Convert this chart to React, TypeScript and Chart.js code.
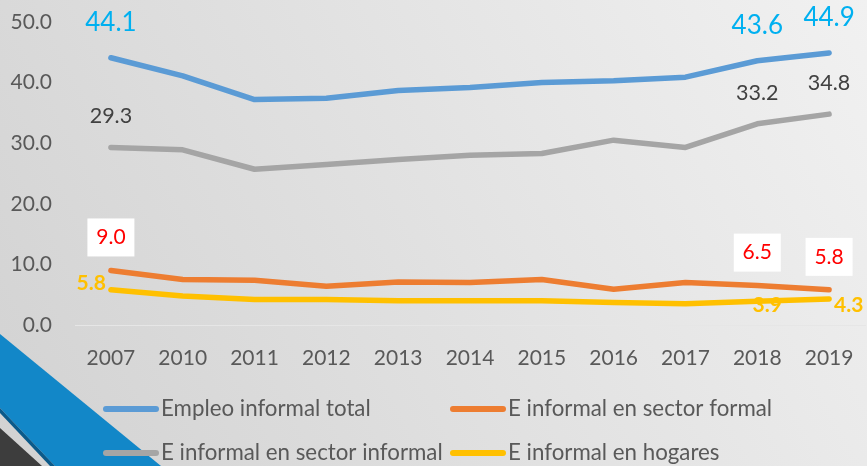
import React, { useEffect, useRef } from "react";
import { Chart, registerables } from "chart.js";

Chart.register(...registerables);

const years = ["2007", "2010", "2011", "2012", "2013", "2014", "2015", "2016", "2017", "2018", "2019"];
const empleoTotal = [44.1, 41.1, 37.2, 37.4, 38.7, 39.2, 40.0, 40.3, 40.9, 43.6, 44.9];
const sectorFormal = [9.0, 7.5, 7.4, 6.4, 7.1, 7.0, 7.5, 5.9, 7.0, 6.5, 5.8];
const sectorInformal = [29.3, 28.9, 25.7, 26.5, 27.3, 28.0, 28.3, 30.5, 29.3, 33.2, 34.8];
const hogares = [5.8, 4.8, 4.2, 4.2, 4.0, 4.0, 4.0, 3.7, 3.5, 3.9, 4.3];
const seriesNames = [
  "Empleo informal total",
  "E informal en sector formal",
  "E informal en sector informal",
  "E informal en hogares",
];
const seriesColors = ["#5B9BD5", "#ED7D31", "#A5A5A5", "#FFC000"];
const labelledIdx = [0, 9, 10];
const yMin = 0;
const yMax = 50;
const yStep = 10;

const FONT = 'Lato, "Open Sans", sans-serif';

const bgPlugin = {
  id: "bgDeco",
  beforeDraw(chart: any) {
    const { ctx, width, height } = chart;
    ctx.save();
    const g = ctx.createLinearGradient(0, height, width, 0);
    g.addColorStop(0, "#d2d2d2");
    g.addColorStop(1, "#f1f1f1");
    ctx.fillStyle = g;
    ctx.fillRect(0, 0, width, height);
    const poly = (pts: number[][], color: string) => {
      ctx.beginPath();
      ctx.moveTo(pts[0][0], pts[0][1]);
      for (let i = 1; i < pts.length; i++) ctx.lineTo(pts[i][0], pts[i][1]);
      ctx.closePath();
      ctx.fillStyle = color;
      ctx.fill();
    };
    poly([[0, 334], [161, 466], [55, 466], [0, 408]], "#1287C8");
    poly([[0, 408], [55, 466], [50, 466], [0, 413]], "#0B5A8A");
    poly([[0, 428], [42, 466], [0, 466]], "#3D3D3D");
    ctx.restore();
  },
};

const labelPlugin = {
  id: "valueLabels",
  afterDatasetsDraw(chart: any) {
    const { ctx } = chart;
    ctx.save();
    const pt = (ds: number, i: number) => chart.getDatasetMeta(ds).data[i];
    const vals = [empleoTotal, sectorFormal, sectorInformal, hogares];
    labelledIdx.forEach((i, k) => {
      // blue
      let p = pt(0, i);
      ctx.font = `26px ${FONT}`;
      ctx.fillStyle = "#00B0F0";
      ctx.textAlign = "center";
      ctx.textBaseline = "middle";
      ctx.fillText(vals[0][i].toFixed(1), p.x, p.y - 35);
      // gray
      p = pt(2, i);
      ctx.font = `21.5px ${FONT}`;
      ctx.fillStyle = "#404040";
      ctx.fillText(vals[2][i].toFixed(1), p.x, p.y - 31);
      // orange boxed
      p = pt(1, i);
      ctx.fillStyle = "#FFFFFF";
      ctx.fillRect(p.x - 23.5, p.y - 33 - 19, 47, 38);
      ctx.font = `21px ${FONT}`;
      ctx.fillStyle = "#FF0000";
      ctx.fillText(vals[1][i].toFixed(1), p.x, p.y - 33);
      // yellow
      p = pt(3, i);
      ctx.font = `bold 21px ${FONT}`;
      ctx.fillStyle = "#FFC000";
      if (k === 0) {
        ctx.textAlign = "right";
        ctx.fillText(vals[3][i].toFixed(1), p.x - 5, p.y - 7);
      } else if (k === 1) {
        ctx.textAlign = "center";
        ctx.fillText(vals[3][i].toFixed(1), p.x + 10, p.y + 4);
      } else {
        ctx.textAlign = "left";
        ctx.fillText(vals[3][i].toFixed(1), p.x + 5, p.y + 6);
      }
    });
    ctx.restore();
  },
};

const legendPlugin = {
  id: "gridLegend",
  afterDraw(chart: any) {
    const { ctx } = chart;
    const colX = [103, 450];
    const rowY = [409, 453];
    ctx.save();
    chart.data.datasets.forEach((ds: any, i: number) => {
      const x = colX[i % 2];
      const y = rowY[Math.floor(i / 2)];
      ctx.strokeStyle = ds.borderColor;
      ctx.lineWidth = 6;
      ctx.lineCap = "round";
      ctx.beginPath();
      ctx.moveTo(x + 3, y);
      ctx.lineTo(x + 53, y);
      ctx.stroke();
      ctx.font = `22.3px ${FONT}`;
      ctx.fillStyle = "#595959";
      ctx.textAlign = "left";
      ctx.textBaseline = "middle";
      ctx.fillText(ds.label, x + 58, y);
    });
    ctx.restore();
  },
};

export default function App() {
  const ref = useRef<HTMLCanvasElement | null>(null);
  useEffect(() => {
    if (!ref.current) return;
    const seriesData = [empleoTotal, sectorFormal, sectorInformal, hogares];
    const chart = new Chart(ref.current, {
      type: "line",
      data: {
        labels: years,
        datasets: seriesNames.map((name, i) => ({
          label: name,
          data: seriesData[i],
          borderColor: seriesColors[i],
          backgroundColor: seriesColors[i],
          borderWidth: 5.5,
          borderCapStyle: "round",
          borderJoinStyle: "round",
          pointRadius: 0,
          tension: 0,
          fill: false,
        })),
      },
      options: {
        responsive: false,
        animation: false,
        layout: { padding: { top: 22, right: 2, left: 0, bottom: 0 } },
        plugins: { legend: { display: false }, tooltip: { enabled: false } },
        scales: {
          x: {
            offset: true,
            grid: { display: false, drawTicks: false },
            border: { display: true, color: "#e6e6e6", width: 1 },
            ticks: { color: "#595959", font: { family: FONT, size: 21 }, padding: 21 },
            afterFit: (s: any) => {
              s.height = 141;
              s.paddingLeft = 0;
              s.paddingRight = 0;
            },
          },
          y: {
            min: yMin,
            max: yMax,
            grid: { display: false, drawTicks: false },
            border: { display: false },
            ticks: {
              stepSize: yStep,
              color: "#595959",
              font: { family: FONT, size: 21 },
              padding: 23,
              callback: (v: any) => Number(v).toFixed(1),
            },
            afterFit: (s: any) => {
              s.width = 75;
              s.paddingTop = 0;
              s.paddingBottom = 0;
            },
          },
        },
      },
      plugins: [bgPlugin, labelPlugin, legendPlugin],
    });
    return () => chart.destroy();
  }, []);
  return (
    <div style={{ position: "fixed", left: 0, top: 0, width: 867, height: 466 }}>
      <canvas ref={ref} width={867} height={466} style={{ display: "block" }} />
    </div>
  );
}
